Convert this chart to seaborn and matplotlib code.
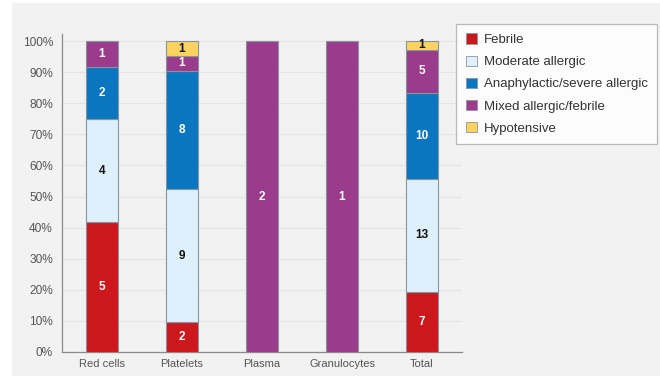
import numpy as np
import pandas as pd
import matplotlib
matplotlib.use("Agg")
import matplotlib.pyplot as plt
from matplotlib.patches import Rectangle, Patch
from matplotlib.ticker import FixedLocator, PercentFormatter
import seaborn as sns

categories = ["Red cells", "Platelets", "Plasma", "Granulocytes", "Total"]
series_names = ["Febrile", "Moderate allergic", "Anaphylactic/severe allergic",
                "Mixed allergic/febrile", "Hypotensive"]
febrile = [5, 2, 0, 0, 7]
moderate = [4, 9, 0, 0, 13]
anaphylactic = [2, 8, 0, 0, 10]
mixed = [1, 1, 2, 1, 5]
hypotensive = [0, 1, 0, 0, 1]
series_values = [febrile, moderate, anaphylactic, mixed, hypotensive]
colors = ["#cc171d", "#ddf0fc", "#0a76bf", "#9a3b8b", "#fcd35f"]
label_colors = ["white", "#111111", "white", "white", "#111111"]
y_ticks = [0, 0.1, 0.2, 0.3, 0.4, 0.5, 0.6, 0.7, 0.8, 0.9, 1.0]

sns.set_theme(style="white")
plt.rcParams["font.family"] = ["Liberation Sans", "DejaVu Sans"]

fig = plt.figure(figsize=(6.6, 3.76), dpi=100)
fig.patch.set_facecolor("white")
fig.patches.append(Rectangle((12 / 660, 0), 1, 1 - 3 / 376, transform=fig.transFigure,
                             facecolor="#f2f2f2", edgecolor="none", zorder=-10))

ax = fig.add_axes([62 / 660, 24 / 376, 400 / 660, 318 / 376])
ax.set_facecolor("none")

vals = np.array(series_values, dtype=float)
totals = vals.sum(axis=0)
fracs = vals / totals
bottoms = np.vstack([np.zeros(len(categories)), np.cumsum(fracs, axis=0)[:-1]])

for i, name in enumerate(series_names):
    df = pd.DataFrame({"cat": categories, "frac": fracs[i]})
    sns.barplot(data=df, x="cat", y="frac", order=categories, bottom=bottoms[i],
                color=colors[i], saturation=1, width=0.4, edgecolor="#8795a0",
                linewidth=0.8, ax=ax, zorder=3)
    for j in range(len(categories)):
        if vals[i, j] > 0:
            ax.text(j, bottoms[i, j] + fracs[i, j] / 2, f"{int(vals[i, j])}",
                    ha="center", va="center", fontsize=8.5, fontweight="bold",
                    color=label_colors[i], zorder=5)

ax.set_xlim(-0.5, len(categories) - 0.5)
ax.set_ylim(0, 1.023)
ax.yaxis.set_major_locator(FixedLocator(y_ticks))
ax.yaxis.set_major_formatter(PercentFormatter(1.0, decimals=0))
ax.grid(axis="y", color="#e4e4e4", linewidth=0.9, zorder=0)
ax.set_axisbelow(True)
ax.set_xlabel("")
ax.set_ylabel("")
for s in ["top", "right"]:
    ax.spines[s].set_visible(False)
for s in ["left", "bottom"]:
    ax.spines[s].set_color("#8a8a8a")
    ax.spines[s].set_linewidth(0.9)
ax.tick_params(axis="y", length=0, labelsize=8.6, labelcolor="#555555", pad=6.5)
ax.tick_params(axis="x", which="major", length=0, labelsize=8, labelcolor="#555555", pad=5)
ax.set_xticks(np.arange(len(categories)) + 0.5, minor=True)
ax.tick_params(axis="x", which="minor", length=3, width=0.9, color="#8a8a8a", direction="out")

handles = [Patch(facecolor=c, edgecolor="#8795a0", linewidth=0.6) for c in colors]
leg = fig.legend(handles, series_names, loc="upper left",
                 bbox_to_anchor=(456 / 660, 1 - 24 / 376), frameon=True, fancybox=False,
                 edgecolor="#aaaaaa", facecolor="white", fontsize=9.5,
                 handlelength=0.85, handleheight=0.85, handletextpad=0.55,
                 labelspacing=0.7, borderpad=0.72, borderaxespad=0)
leg.get_frame().set_linewidth(0.9)
for t in leg.get_texts():
    t.set_color("#333333")

fig.savefig("out.png", dpi=100)
